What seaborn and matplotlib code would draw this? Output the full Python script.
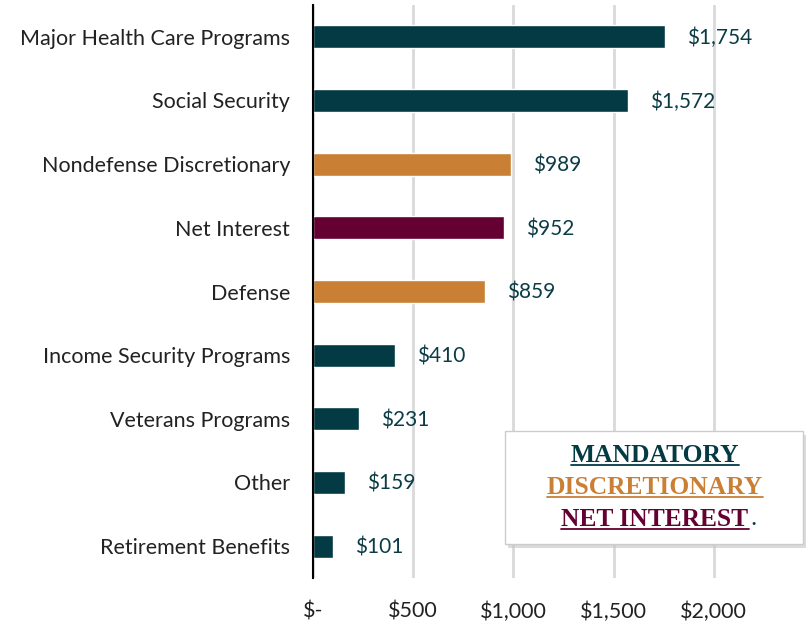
import matplotlib
matplotlib.use('Agg')
import matplotlib.pyplot as plt
import seaborn as sns
import pandas as pd
from matplotlib.patches import FancyBboxPatch

categorias = ['Major Health Care Programs', 'Social Security', 'Nondefense Discretionary',
              'Net Interest', 'Defense', 'Income Security Programs', 'Veterans Programs',
              'Other', 'Retirement Benefits']
gasto = [1754, 1572, 989, 952, 859, 410, 231, 159, 101]
tipo = ['MANDATORY', 'MANDATORY', 'DISCRETIONARY', 'NET INTEREST', 'DISCRETIONARY',
        'MANDATORY', 'MANDATORY', 'MANDATORY', 'MANDATORY']
ticks = [0, 500, 1000, 1500, 2000]
tick_labels = ['$-', '$500', '$1,000', '$1,500', '$2,000']

colores = {'MANDATORY': '#033a43', 'DISCRETIONARY': '#c98035', 'NET INTEREST': '#640032'}
texto_color = '#0b3c46'

df = pd.DataFrame({'Categoria': categorias, 'Gasto': gasto, 'Tipo': tipo})

sns.set_theme(style='white')
plt.rcParams['font.family'] = ['Lato', 'DejaVu Sans']

fig = plt.figure(figsize=(8.1, 6.25), dpi=100)
ax = fig.add_axes([313 / 810, 1 - 578 / 625, 497 / 810, 573 / 625])

sns.barplot(data=df, x='Gasto', y='Categoria', hue='Tipo', palette=colores,
            dodge=False, width=0.36, saturation=1, legend=False, ax=ax, zorder=3)

ax.set_xlim(0, 2480)
ax.set_xticks(ticks)
ax.set_xticklabels(tick_labels, fontsize=15.5, color='#222222')
ax.tick_params(axis='x', length=0, pad=17)
ax.tick_params(axis='y', length=0, pad=16.5, labelsize=15.5, labelcolor='#222222')
ax.set_xlabel('')
ax.set_ylabel('')
ax.grid(axis='x', color='#d9d9d9', linewidth=2, zorder=0)
for s in ['top', 'right', 'bottom']:
    ax.spines[s].set_visible(False)
ax.spines['left'].set_color('black')
ax.spines['left'].set_linewidth(1.5)
ax.spines['left'].set_zorder(5)

for i, v in enumerate(gasto):
    ax.annotate(f'${v:,}', xy=(v, i), xytext=(16, -1), textcoords='offset points',
                va='center', ha='left', fontsize=15, color=texto_color)

# caja de leyenda
caja = FancyBboxPatch((505 / 810, 1 - 544 / 625), 298 / 810, 113 / 625,
                      boxstyle='square,pad=0', transform=fig.transFigure,
                      facecolor='white', edgecolor='#cccccc', linewidth=1, zorder=10)
sombra = FancyBboxPatch((508 / 810, 1 - 548 / 625), 298 / 810, 113 / 625,
                        boxstyle='square,pad=0', transform=fig.transFigure,
                        facecolor='#c4c4c4', edgecolor='none', alpha=0.6, zorder=9)
fig.patches.extend([sombra, caja])

leyenda = [('MANDATORY', 455), ('DISCRETIONARY', 487), ('NET INTEREST', 519)]
textos = []
for nombre, ypix in leyenda:
    t = fig.text(655 / 810, 1 - ypix / 625, nombre, ha='center', va='center',
                 fontsize=18.4, fontweight='bold', family='Liberation Serif',
                 color=colores[nombre], zorder=11)
    textos.append(t)

fig.canvas.draw()
r = fig.canvas.get_renderer()
inv = fig.transFigure.inverted()
for t, (nombre, _) in zip(textos, leyenda):
    bb = t.get_window_extent(r)
    (x0, y0), (x1, y1) = inv.transform([(bb.x0, bb.y0), (bb.x1, bb.y1)])
    yl = y0 + 0.002
    fig.add_artist(plt.Line2D([x0, x1], [yl, yl], transform=fig.transFigure,
                              color=colores[nombre], linewidth=1.3, zorder=11))
    if nombre == 'NET INTEREST':
        fig.text(x1 + 0.002, (y0 + y1) / 2, '.', ha='left', va='center', fontsize=18.4,
                 family='Liberation Serif', color=texto_color, zorder=11)

fig.savefig('out.png', dpi=100)
